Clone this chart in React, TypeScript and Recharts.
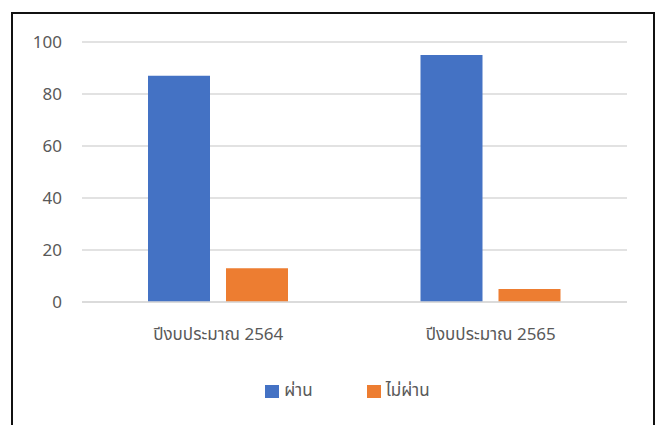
import React from "react";
import { BarChart, Bar, XAxis, YAxis, CartesianGrid, Legend } from "recharts";

const categories = ["ปีงบประมาณ 2564", "ปีงบประมาณ 2565"];
const passValues = [87, 95];
const failValues = [13, 5];
const yTicks = [0, 20, 40, 60, 80, 100];
const seriesNames = ["ผ่าน", "ไม่ผ่าน"];
const seriesColors = ["#4472C4", "#ED7D31"];

const data = categories.map((c, i) => ({
  name: c,
  pass: passValues[i],
  fail: failValues[i],
}));

const FONT = '"Noto Sans", "Noto Sans Thai", "DejaVu Sans", sans-serif';

const LegendContent = (props: any) => {
  const payload = props.payload || [];
  return (
    <div
      style={{
        height: 30,
        display: "flex",
        justifyContent: "center",
        alignItems: "center",
        fontFamily: FONT,
        fontSize: 17,
        color: "#595959",
        paddingLeft: 46,
      }}
    >
      {payload.map((p: any, i: number) => (
        <div
          key={i}
          style={{
            display: "flex",
            alignItems: "center",
            marginRight: i === 0 ? 54 : 0,
          }}
        >
          <span
            style={{
              display: "inline-block",
              width: 14,
              height: 13,
              background: p.color,
              marginRight: 5,
            }}
          />
          <span>{p.value}</span>
        </div>
      ))}
    </div>
  );
};

export default function App() {
  return (
    <div style={{ position: "relative", width: 659, height: 425, background: "#fff" }}>
      <style>{`body{margin:0;overflow:hidden;background:#fff}`}</style>
      <div
        style={{
          position: "absolute",
          left: 11,
          top: 12,
          width: 644,
          height: 425,
          borderTop: "2px solid #111",
          borderLeft: "2px solid #111",
          borderRight: "2px solid #111",
          boxSizing: "border-box",
        }}
      />
      <div style={{ position: "absolute", left: 0, top: 0 }}>
        <BarChart
          width={659}
          height={425}
          data={data}
          margin={{ top: 42, right: 32, left: 22, bottom: 19 }}
          barSize={62}
          barGap={16}
        >
          <CartesianGrid vertical={false} stroke="#D9D9D9" strokeWidth={1.5} />
          <XAxis
            dataKey="name"
            height={74}
            axisLine={{ stroke: "#D9D9D9", strokeWidth: 1.5 }}
            tickLine={false}
            tickMargin={20}
            tick={{ fill: "#595959", fontSize: 17, fontFamily: FONT }}
          />
          <YAxis
            width={60}
            domain={[0, 100]}
            ticks={yTicks}
            axisLine={false}
            tickLine={false}
            tickMargin={14}
            tick={{ fill: "#595959", fontSize: 17, fontFamily: FONT }}
          />
          <Legend verticalAlign="bottom" content={<LegendContent />} />
          <Bar dataKey="pass" name={seriesNames[0]} fill={seriesColors[0]} isAnimationActive={false} />
          <Bar dataKey="fail" name={seriesNames[1]} fill={seriesColors[1]} isAnimationActive={false} />
        </BarChart>
      </div>
    </div>
  );
}
